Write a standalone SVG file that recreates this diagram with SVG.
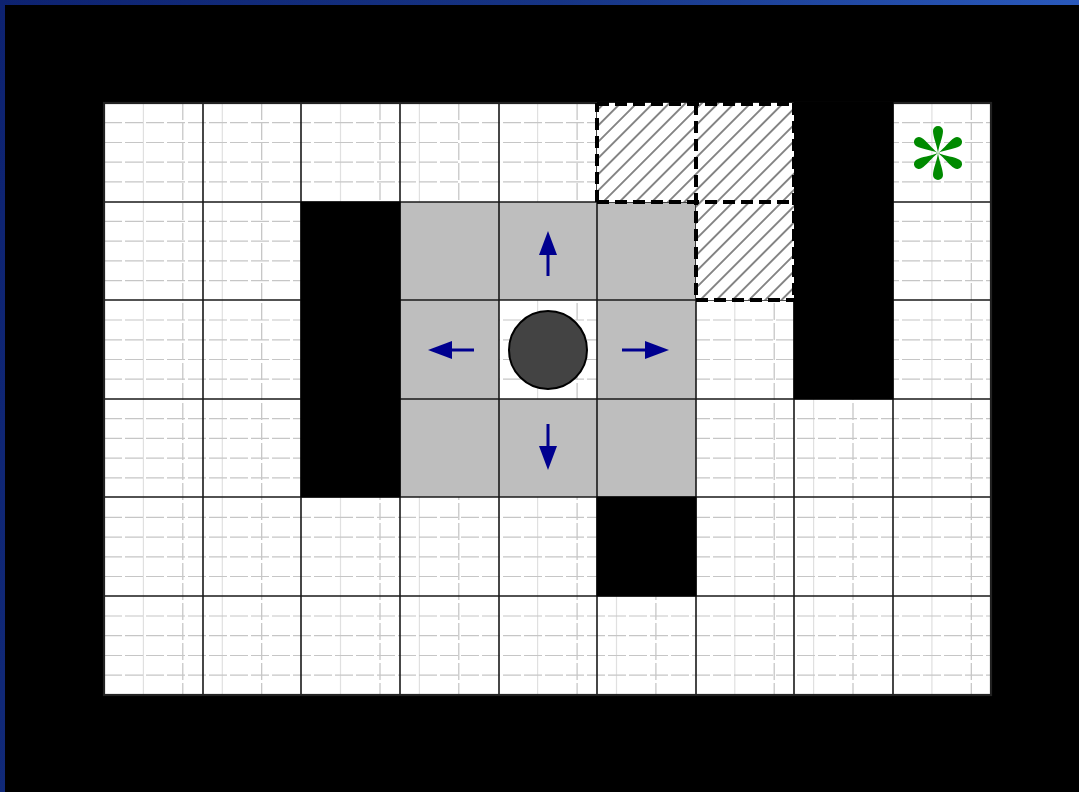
<svg xmlns="http://www.w3.org/2000/svg" width="1079" height="792" viewBox="0 0 1079 792">
<style>
.fineA{stroke:#e0e0e0;stroke-width:1.2;fill:none}
.fineB{stroke:#c2c2c2;stroke-width:1.2;fill:none;stroke-dasharray:17 3}
.fineH{stroke:#c6c6c6;stroke-width:1.2;fill:none;stroke-dasharray:18 3}
.main{stroke:#1a1a1a;stroke-width:1.6;fill:none}
.wall{fill:#000}
.near{fill:#bebebe}
.dash{stroke:#000;stroke-width:4;fill:none;stroke-dasharray:12 6}
.arr{stroke:#00008f;stroke-width:3;fill:none;marker-end:url(#head)}
</style>
<defs>
<linearGradient id="frame" x1="0" y1="0" x2="1" y2="0.2">
<stop offset="0" stop-color="#0d2270"/>
<stop offset="0.5" stop-color="#163484"/>
<stop offset="1" stop-color="#2b5cc0"/>
</linearGradient>
<pattern id="hatch" patternUnits="userSpaceOnUse" width="11.5" height="11.5" patternTransform="rotate(45)">
<rect width="11.5" height="11.5" fill="#fff"/>
<line x1="5.75" y1="0" x2="5.75" y2="11.5" stroke="#555" stroke-width="1.4"/>
</pattern>
<marker id="head" viewBox="0 0 24 18" refX="0" refY="9" markerWidth="24" markerHeight="18" markerUnits="userSpaceOnUse" orient="auto">
<path d="M0,0 L24,9 L0,18 Z" fill="#00008f"/>
</marker>
<path id="spoke" d="M0,0 C-1,-8 -5,-16 -5,-22 A5,5 0 0 1 5,-22 C5,-16 1,-8 0,0 Z"/>
</defs>

<g id="background">
<rect width="1079" height="792" fill="url(#frame)"/>
<rect x="5" y="5" width="1074" height="787" fill="#000"/>
<rect x="104" y="103" width="887" height="592" fill="#fff"/>
</g>

<g id="fine-grid">
<path class="fineA" d="M143.4,103V695M222.3,103V695M340.5,103V695M419.4,103V695M537.6,103V695M616.5,103V695M734.8,103V695M813.6,103V695M931.9,103V695"/>
<path class="fineB" d="M182.8,103V695M261.7,103V695M380,103V695M458.8,103V695M577.1,103V695M655.9,103V695M774.2,103V695M853,103V695M971.3,103V695"/>
<path class="fineH" d="M104,122.7H991M104,142.5H991M104,162.2H991M104,181.9H991M104,221.4H991M104,241.1H991M104,260.8H991M104,280.6H991M104,320H991M104,339.8H991M104,359.5H991M104,379.2H991M104,418.7H991M104,438.4H991M104,458.1H991M104,477.9H991M104,517.3H991M104,537.1H991M104,556.8H991M104,576.5H991M104,616H991M104,635.7H991M104,655.5H991M104,675.2H991"/>
</g>

<g id="neighbour-cells">
<rect class="near" x="400" y="202" width="99" height="98"/>
<rect class="near" x="499" y="202" width="98" height="98"/>
<rect class="near" x="597" y="202" width="99" height="98"/>
<rect class="near" x="400" y="300" width="99" height="99"/>
<rect class="near" x="597" y="300" width="99" height="99"/>
<rect class="near" x="400" y="399" width="99" height="98"/>
<rect class="near" x="499" y="399" width="98" height="98"/>
<rect class="near" x="597" y="399" width="99" height="98"/>
</g>

<g id="grid">
<path class="main" d="M203,103V695M301,103V695M400,103V695M499,103V695M597,103V695M696,103V695M794,103V695M893,103V695M104,202H991M104,300H991M104,399H991M104,497H991M104,596H991M104,695H991"/>
<rect x="104" y="103" width="887" height="592" fill="none" stroke="#222" stroke-width="2.2"/>
</g>

<g id="walls">
<rect class="wall" x="300.5" y="201.5" width="100" height="296"/>
<rect class="wall" x="793.5" y="102" width="100" height="297.5"/>
<rect class="wall" x="596.5" y="496.5" width="100" height="100"/>
</g>

<g id="unknown-cells">
<rect x="597" y="103" width="197" height="99" fill="url(#hatch)"/>
<rect x="696" y="202" width="98" height="98" fill="url(#hatch)"/>
<path class="dash" d="M597,202V103M696,103V300M597,202H794M696,300H794M597,104H794M794,103V300"/>
</g>

<g id="connectors">
<line class="arr" x1="548" y1="276" x2="548" y2="255"/>
<line class="arr" x1="474" y1="350" x2="452" y2="350"/>
<line class="arr" x1="622" y1="350" x2="645" y2="350"/>
<line class="arr" x1="548" y1="424" x2="548" y2="446"/>
</g>

<g id="robot">
<circle cx="548" cy="350" r="39" fill="#434343" stroke="#000" stroke-width="2"/>
</g>

<g id="goal" fill="#008a00" transform="translate(938,153)">
<use href="#spoke"/>
<use href="#spoke" transform="rotate(60)"/>
<use href="#spoke" transform="rotate(120)"/>
<use href="#spoke" transform="rotate(180)"/>
<use href="#spoke" transform="rotate(240)"/>
<use href="#spoke" transform="rotate(300)"/>
</g>
</svg>
